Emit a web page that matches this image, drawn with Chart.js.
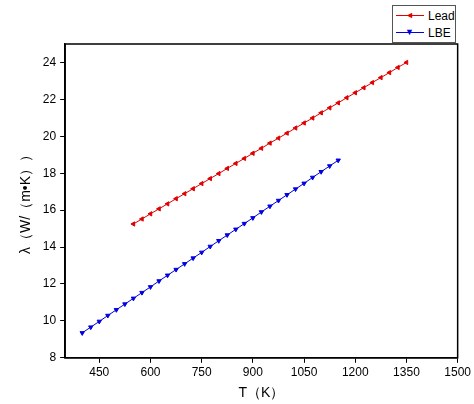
<!DOCTYPE html>
<html><head><meta charset="utf-8">
<script src="https://cdn.jsdelivr.net/npm/chart.js@4"></script>
<style>
body{margin:0;background:#fff;font-family:"Liberation Sans",Arial,sans-serif}
#wrap{position:relative;width:474px;height:404px}
#legend{position:absolute;left:392px;top:5px;width:62px;border:1px solid #555;background:#fff;font-size:12px;padding:1px 0}
.row{display:flex;align-items:center;height:17px}
.ln{position:relative;width:28px;height:1px;margin:0 4px 0 3px}
.mk{position:absolute;left:9px;top:-6px;font-size:9px;line-height:12px}
</style></head><body>
<div id="wrap"><canvas id="c" width="474" height="404"></canvas>
<div id="legend">
<div class="row"><div class="ln" style="background:#e00000"><span class="mk" style="color:#e00000">◄</span></div>Lead</div>
<div class="row"><div class="ln" style="background:#0000e0"><span class="mk" style="color:#0000e0">▼</span></div>LBE</div>
</div></div>
<script>
const leadT = [550,575,600,625,650,675,700,725,750,775,800,825,850,875,900,925,950,975,1000,1025,1050,1075,1100,1125,1150,1175,1200,1225,1250,1275,1300,1325,1350];
const leadK = [15.25,15.52,15.80,16.07,16.34,16.62,16.89,17.16,17.44,17.71,17.98,18.26,18.53,18.80,19.08,19.35,19.63,19.90,20.17,20.45,20.72,20.99,21.27,21.54,21.81,22.09,22.36,22.63,22.91,23.18,23.45,23.73,24.00];
const lbeT = [400,425,450,475,500,525,550,575,600,625,650,675,700,725,750,775,800,825,850,875,900,925,950,975,1000,1025,1050,1075,1100,1125,1150];
const lbeK = [9.35,9.66,9.97,10.29,10.60,10.91,11.22,11.53,11.84,12.16,12.47,12.78,13.09,13.40,13.71,14.03,14.34,14.65,14.96,15.27,15.58,15.90,16.21,16.52,16.83,17.14,17.45,17.77,18.08,18.39,18.70];
const xTicks = [450,600,750,900,1050,1200,1350,1500];
const yTicks = [8,10,12,14,16,18,20,22,24];

const frame = {
  id: 'frame',
  afterDraw(chart) {
    const a = chart.chartArea, ctx = chart.ctx;
    ctx.save();
    ctx.strokeStyle = '#000';
    ctx.lineWidth = 1.5;
    ctx.strokeRect(a.left, a.top, a.right - a.left, a.bottom - a.top);
    ctx.restore();
  }
};

const font = {family: '"Liberation Sans", Arial, sans-serif', size: 12};
new Chart(document.getElementById('c'), {
  type: 'line',
  data: {
    datasets: [
      {label: 'Lead', data: leadT.map((t, i) => ({x: t, y: leadK[i]})), borderColor: '#e00000', backgroundColor: '#e00000',
       borderWidth: 1, pointStyle: 'triangle', rotation: -90, pointRadius: 2.5},
      {label: 'LBE', data: lbeT.map((t, i) => ({x: t, y: lbeK[i]})), borderColor: '#0000e0', backgroundColor: '#0000e0',
       borderWidth: 1, pointStyle: 'triangle', rotation: 180, pointRadius: 2.5}
    ]
  },
  options: {
    responsive: false,
    animation: false,
    layout: {padding: {top: 44, right: 16, left: 14, bottom: 0}},
    plugins: {legend: {display: false}, tooltip: {enabled: false}},
    scales: {
      x: {
        type: 'linear', min: 350, max: 1500,
        afterBuildTicks: s => { s.ticks = xTicks.map(v => ({value: v})); },
        ticks: {color: '#000', font: font, padding: 3, callback: v => String(v)},
        grid: {drawOnChartArea: false, tickLength: 5, color: '#000'},
        border: {color: '#000', width: 1.5},
        title: {display: true, text: 'T（K）', color: '#000', font: {family: font.family, size: 14}, padding: 2}
      },
      y: {
        min: 8, max: 25,
        afterBuildTicks: s => { s.ticks = yTicks.map(v => ({value: v})); },
        ticks: {color: '#000', font: font, padding: 4, callback: v => String(v)},
        grid: {drawOnChartArea: false, tickLength: 5, color: '#000'},
        border: {color: '#000', width: 1.5},
        title: {display: true, text: 'λ（W/（m•K））', color: '#000', font: {family: font.family, size: 14}}
      }
    }
  },
  plugins: [frame]
});
</script></body></html>
